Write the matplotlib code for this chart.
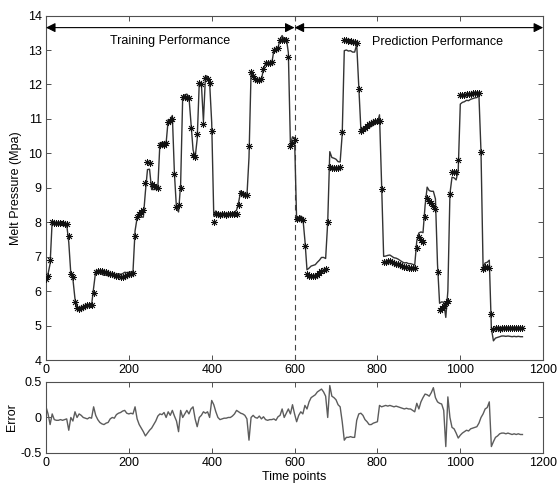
import numpy as np
import matplotlib
matplotlib.use("Agg")
import matplotlib.pyplot as plt

plt.rcParams['font.family'] = ['Liberation Sans', 'DejaVu Sans']
plt.rcParams['axes.unicode_minus'] = False

# time grid (time points, step 5)
time = np.arange(0, 1155, 5)

# measured melt pressure (asterisk markers)
measured = [
    6.35, 6.45, 6.9, 8.0, 7.98, 7.97, 7.98, 7.97, 7.98, 7.96,
    7.95, 7.6, 6.5, 6.4, 5.7, 5.5, 5.48, 5.5, 5.55, 5.58,
    5.6, 5.6, 5.6, 5.95, 6.55, 6.58, 6.6, 6.58, 6.56, 6.55,
    6.52, 6.5, 6.5, 6.48, 6.45, 6.45, 6.42, 6.42, 6.45, 6.48,
    6.5, 6.5, 6.52, 7.6, 8.15, 8.25, 8.3, 8.35, 9.15, 9.75,
    9.72, 9.1, 9.05, 9.02, 9.0, 10.25, 10.28, 10.25, 10.3, 10.9,
    10.95, 11.0, 9.4, 8.45, 8.5, 9.0, 11.65, 11.65, 11.62, 11.6,
    10.75, 9.95, 9.9, 10.55, 12.05, 12.0, 10.85, 12.2, 12.15, 12.05,
    10.65, 8.0, 8.25, 8.25, 8.22, 8.25, 8.25, 8.22, 8.25, 8.25,
    8.25, 8.25, 8.25, 8.5, 8.85, 8.82, 8.8, 8.78, 10.2, 12.35,
    12.25, 12.15, 12.12, 12.12, 12.15, 12.45, 12.62, 12.62, 12.62, 12.65,
    13.0, 13.02, 13.05, 13.28, 13.3, 13.3, 13.3, 12.8, 10.2, 10.3,
    10.4, 8.1, 8.12, 8.1, 8.08, 7.3, 6.5, 6.45, 6.45, 6.45,
    6.45, 6.48, 6.52, 6.58, 6.62, 6.65, 8.0, 9.6, 9.58, 9.58,
    9.58, 9.58, 9.6, 10.62, 13.3, 13.28, 13.25, 13.25, 13.22, 13.22,
    13.2, 11.87, 10.65, 10.7, 10.75, 10.8, 10.85, 10.88, 10.9, 10.93,
    10.95, 10.95, 8.98, 6.85, 6.85, 6.88, 6.88, 6.85, 6.82, 6.8,
    6.78, 6.75, 6.72, 6.7, 6.7, 6.68, 6.68, 6.68, 6.68, 7.26,
    7.57, 7.5, 7.42, 8.15, 8.7, 8.62, 8.55, 8.48, 8.4, 6.56,
    5.45, 5.5, 5.58, 5.65, 5.72, 8.83, 9.45, 9.45, 9.45, 9.8,
    11.68, 11.7, 11.7, 11.72, 11.72, 11.73, 11.74, 11.75, 11.75, 11.76,
    10.04, 6.65, 6.7, 6.7, 6.68, 5.33, 4.9, 4.92, 4.92, 4.91,
    4.92, 4.92, 4.92, 4.92, 4.92, 4.92, 4.92, 4.92, 4.92, 4.92,
    4.92,
]

# prediction error (model output minus measured)
error = [
    0.15, 0.05, -0.1, 0.05, -0.03, -0.04, -0.04, -0.03, -0.04, -0.03,
    -0.02, -0.18, 0.0, -0.05, 0.08, 0.0, 0.05, 0.03, 0.0, -0.01,
    -0.02, 0.0, -0.01, 0.15, 0.03, -0.03, -0.07, -0.09, -0.1, -0.08,
    -0.07, -0.02, 0.0, -0.01, 0.04, 0.06, 0.07, 0.09, 0.1, 0.06,
    0.05, 0.06, 0.05, 0.15, -0.02, -0.1, -0.15, -0.2, -0.26, -0.22,
    -0.18, -0.15, -0.1, -0.05, 0.02, 0.05, 0.04, 0.07, 0.0, 0.08,
    0.03, 0.1, 0.02, -0.05, -0.2, 0.1, 0.0, 0.05, 0.1, 0.05,
    0.12, 0.15, -0.02, -0.13, 0.0, 0.03, 0.08, 0.06, 0.08, 0.0,
    0.24, 0.18, 0.08, 0.0, -0.03, -0.02, -0.01, -0.01, 0.0, 0.0,
    0.02, 0.05, 0.1, 0.08, 0.06, 0.05, 0.03, -0.02, -0.32, 0.0,
    0.03, 0.0, -0.01, 0.02, -0.02, 0.01, -0.03, -0.04, -0.03, -0.03,
    -0.02, -0.04, 0.01, 0.03, 0.12, 0.0, 0.06, 0.12, 0.05, 0.18,
    0.05, -0.06, 0.03, 0.08, 0.05, 0.17, 0.12, 0.22, 0.28, 0.3,
    0.32, 0.36, 0.38, 0.4, 0.36, 0.3, 0.0, 0.45, 0.3, 0.28,
    0.25, 0.18, 0.15, -0.06, -0.32, -0.28, -0.28, -0.27, -0.28, -0.28,
    -0.04, 0.05, 0.06, 0.03, -0.03, -0.06, -0.1, -0.1, -0.08, -0.07,
    -0.06, 0.17, 0.15, 0.16, 0.17, 0.16, 0.17, 0.16, 0.15, 0.16,
    0.15, 0.14, 0.13, 0.12, 0.13, 0.12, 0.12, 0.1, 0.08, 0.2,
    0.12, 0.22, 0.28, 0.33, 0.32, 0.3, 0.35, 0.42, 0.28, 0.22,
    0.2, 0.19, 0.1, -0.41, 0.29, 0.0, -0.14, -0.16, -0.22, -0.29,
    -0.25, -0.22, -0.2, -0.18, -0.19, -0.16, -0.15, -0.14, -0.13, -0.08,
    0.0, 0.05, 0.12, 0.14, 0.22, -0.41, -0.34, -0.28, -0.26, -0.23,
    -0.22, -0.22, -0.23, -0.22, -0.23, -0.24, -0.23, -0.24, -0.23, -0.24,
    -0.24,
]

measured = np.array(measured)
error = np.array(error)
predicted = measured + error

x_ticks = [0, 200, 400, 600, 800, 1000, 1200]
y_ticks = [4, 5, 6, 7, 8, 9, 10, 11, 12, 13, 14]
err_ticks = [-0.5, 0, 0.5]
split_point = 600
section_labels = ["Training Performance", "Prediction Performance"]

fig = plt.figure(figsize=(5.58, 4.86), dpi=100)
ax = fig.add_axes([0.0824, 0.259, 0.891, 0.709])
ax2 = fig.add_axes([0.0824, 0.068, 0.891, 0.146])

frame_c = '#505050'
for a in (ax, ax2):
    for s in a.spines.values():
        s.set_color(frame_c)
        s.set_linewidth(0.8)
    a.tick_params(direction='in', top=True, right=True, length=3.5,
                  width=0.7, color=frame_c, labelsize=9, pad=3)

ax.plot(time, predicted, color='#333333', lw=1.0, zorder=2)
ax.plot(time, measured, linestyle='none', marker=(8, 2, 0), markersize=5,
        markeredgewidth=0.6, color='#111111', zorder=3)
ax.axvline(split_point, color='#444444', lw=0.8, dashes=(5, 4), zorder=1)

ax.set_xlim(0, 1200)
ax.set_ylim(4, 14)
ax.set_xticks(x_ticks)
ax.set_yticks(y_ticks)
ax.set_ylabel("Melt Pressure (Mpa)", fontsize=9, labelpad=4)

arrow_kw = dict(arrowstyle='<|-|>', color='black', lw=0.8,
                mutation_scale=14, shrinkA=0, shrinkB=0)
ax.annotate('', xy=(0, 13.65), xytext=(split_point, 13.65), arrowprops=arrow_kw)
ax.annotate('', xy=(split_point, 13.65), xytext=(1200, 13.65), arrowprops=arrow_kw)
ax.text(299, 13.25, section_labels[0], ha='center', va='center', fontsize=9)
ax.text(946, 13.22, section_labels[1], ha='center', va='center', fontsize=9)

ax2.plot(time, error, color='#5c5c5c', lw=1.0)
ax2.set_xlim(0, 1200)
ax2.set_ylim(-0.5, 0.5)
ax2.set_xticks(x_ticks)
ax2.set_yticks(err_ticks)
ax2.set_yticklabels(["-0.5", "0", "0.5"])
ax2.set_ylabel("Error", fontsize=9, labelpad=2)
ax2.set_xlabel("Time points", fontsize=9, labelpad=1)

fig.savefig("out.png", dpi=100)
